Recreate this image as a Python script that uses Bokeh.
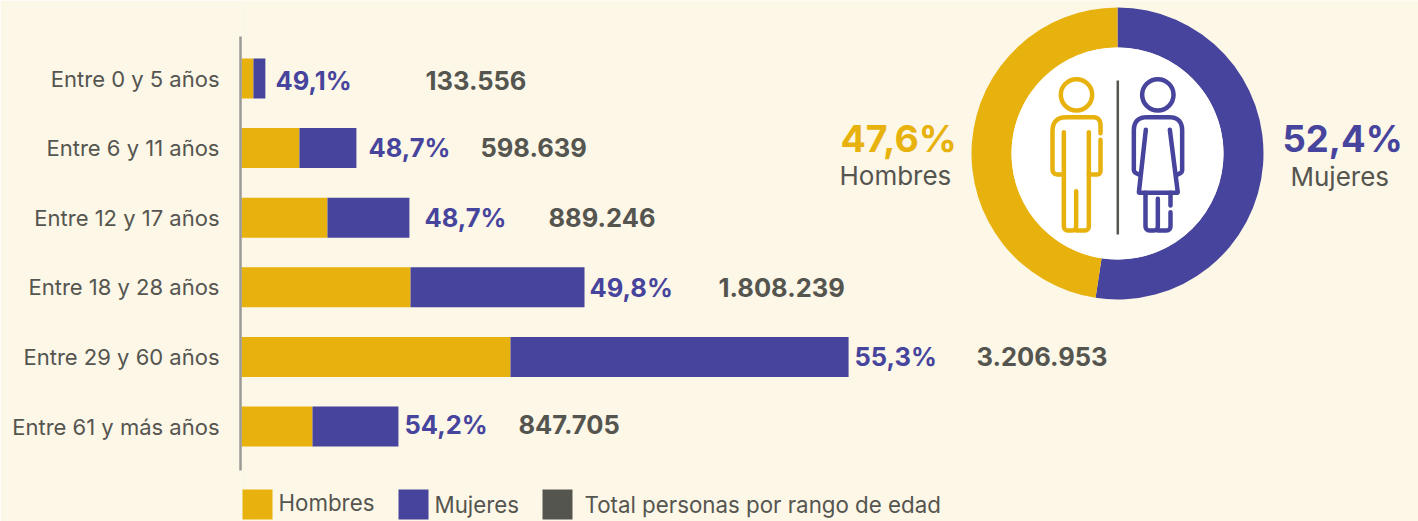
from bokeh.plotting import figure
from bokeh.models import Range1d, FixedTicker
from bokeh.core.properties import value
from bokeh.embed import file_html
from bokeh.resources import INLINE

# ---- data
categories = ["Entre 0 y 5 años", "Entre 6 y 11 años", "Entre 12 y 17 años",
              "Entre 18 y 28 años", "Entre 29 y 60 años", "Entre 61 y más años"]
total_labels = ["133.556", "598.639", "889.246", "1.808.239", "3.206.953", "847.705"]
hombres = [63000, 306000, 454000, 893000, 1421000, 375000]
mujeres = [63000, 301000, 433000, 919000, 1786000, 454000]
pct_labels = ["49,1%", "48,7%", "48,7%", "49,8%", "55,3%", "54,2%"]
donut_names = ["Hombres", "Mujeres"]
donut_values = [47.6, 52.4]
donut_labels = ["47,6%", "52,4%"]
legend_names = ["Hombres", "Mujeres", "Total personas por rango de edad"]

# ---- styles / layout (page pixels of the reference)
FONT = "Inter"
BG, YEL, PUR, GRY, AXC = "#FDF7E7", "#E8B20E", "#46449C", "#555550", "#9A9A96"
W, H = 1418, 521
LEFT = 240
K = 0.0001893                       # px per person
pct_x = [275, 368, 424, 589, 854, 404]
pct_y = [80, 147, 217, 287, 356, 424]
tot_x = [425, 480, 548, 718, 976, 518]
STEP, Y0 = 69.6, 78

p = figure(width=W, height=H, output_backend="svg", toolbar_location=None,
           x_range=Range1d(-1 / K, (W - LEFT - 1) / K),
           y_range=Range1d((H - Y0) / STEP, (0 - Y0) / STEP),
           min_border_left=LEFT, min_border_right=0, min_border_top=0, min_border_bottom=0,
           background_fill_color=BG, border_fill_color=BG, outline_line_color=None)
p.extra_x_ranges = {"px": Range1d(LEFT, W)}
p.extra_y_ranges = {"px": Range1d(H, 0)}
p.xaxis.visible = False
p.grid.visible = False

ax = p.yaxis[0]
ax.ticker = FixedTicker(ticks=list(range(len(categories))))
ax.major_label_overrides = {i: c for i, c in enumerate(categories)}
ax.bounds = ((36 - Y0) / STEP, (470 - Y0) / STEP)
ax.major_tick_line_color = None
ax.minor_tick_line_color = None
ax.axis_line_color = AXC
ax.axis_line_width = 2.5
ax.major_label_standoff = 15
ax.major_label_text_font = FONT
ax.major_label_text_font_size = "22px"
ax.major_label_text_color = GRY

# ---- stacked bars
ys = list(range(len(categories)))
tops = [a + b for a, b in zip(hombres, mujeres)]
BAR_H = 40 / STEP
p.hbar(y=ys, left=0, right=hombres, height=BAR_H, fill_color=YEL, line_color=None)
p.hbar(y=ys, left=hombres, right=tops, height=BAR_H, fill_color=PUR, line_color=None)

def txt(x, y, s, color, size, bold=False, align="left"):
    p.text(x=x, y=y, text=s, text_color=color, text_font=value(FONT),
           text_font_size=size, text_font_style="bold" if bold else "normal",
           text_align=align, text_baseline="middle",
           x_range_name="px", y_range_name="px")

txt(pct_x, pct_y, pct_labels, PUR, "25.5px", True)
txt(tot_x, pct_y, total_labels, GRY, "25.5px", True)

# ---- donut
CX, CY, RO, RI = 1117, 153, 146, 106
mid = 90 - donut_values[1] * 3.6
p.annular_wedge(x=[CX, CX], y=[CY, CY], inner_radius=RI, outer_radius=RO,
                inner_radius_units="screen", outer_radius_units="screen",
                start_angle=[mid, mid - donut_values[0] * 3.6],
                end_angle=[90, mid], start_angle_units="deg", end_angle_units="deg",
                direction="anticlock", fill_color=[PUR, YEL], line_color=None,
                x_range_name="px", y_range_name="px")
p.scatter(x=[CX], y=[CY], size=2 * RI, marker="circle", fill_color="white", line_color=None,
          x_range_name="px", y_range_name="px")

# ---- pictograms: sketched in the zoom crop's coordinates
def conv(pts):
    return [(960 + a / 3, b / 3) for a, b in pts]

def rounded(pts, r):
    """polyline with rounded corners (quadratic); r in zoom px per corner"""
    pts = conv(pts)
    xs, ys_ = [pts[0][0]], [pts[0][1]]
    for i in range(1, len(pts) - 1):
        (x0, y0), (x1, y1), (x2, y2) = pts[i - 1], pts[i], pts[i + 1]
        d1 = ((x0 - x1) ** 2 + (y0 - y1) ** 2) ** .5
        d2 = ((x2 - x1) ** 2 + (y2 - y1) ** 2) ** .5
        rr = min(r / 3, d1 / 2, d2 / 2)
        ax_, ay_ = x1 + (x0 - x1) * rr / d1, y1 + (y0 - y1) * rr / d1
        bx_, by_ = x1 + (x2 - x1) * rr / d2, y1 + (y2 - y1) * rr / d2
        for n in range(9):
            t = n / 8
            xs.append((1 - t) ** 2 * ax_ + 2 * t * (1 - t) * x1 + t ** 2 * bx_)
            ys_.append((1 - t) ** 2 * ay_ + 2 * t * (1 - t) * y1 + t ** 2 * by_)
    xs.append(pts[-1][0]); ys_.append(pts[-1][1])
    return xs, ys_

def strokes(paths, color):
    xs, ys_ = zip(*paths)
    p.multi_line(xs=list(xs), ys=list(ys_), line_color=color, line_width=4.5,
                 line_cap="round", line_join="round",
                 x_range_name="px", y_range_name="px")

man = [rounded([(420, 398), (420, 350), (276, 350), (276, 522), (310, 522)], 42),
       rounded([(310, 395), (310, 690), (347, 690), (347, 572)], 14),
       rounded([(347, 690), (385, 690), (385, 395)], 14),
       rounded([(385, 522), (420, 522), (420, 418)], 12)]
strokes(man, YEL)

woman = [rounded([(535, 522), (520, 515), (520, 350), (665, 350), (665, 515), (652, 522)], 40),
         rounded([(556, 388), (535, 577), (652, 577), (628, 388)], 3),
         rounded([(555, 577), (555, 690), (592, 690), (592, 595)], 14),
         rounded([(592, 690), (630, 690), (630, 635)], 14),
         rounded([(630, 615), (630, 577)], 1)]
strokes(woman, PUR)

head_x, head_y = zip(*conv([(348, 283), (592, 283)]))
p.circle(x=list(head_x), y=list(head_y), radius=15.7, radius_units="screen",
         fill_color=None, line_color=[YEL, PUR], line_width=4.5,
         x_range_name="px", y_range_name="px")
p.line(x=[1117.3, 1117.3], y=[80, 234], line_color=GRY, line_width=2.5,
       x_range_name="px", y_range_name="px")

# donut captions
txt([840], [138], [donut_labels[0]], YEL, "37.5px", True)
txt([1282], [138], [donut_labels[1]], PUR, "36.5px", True)
txt([839, 1290], [175, 176], donut_names, GRY, "26px")

# ---- legend
LEG = 504
p.rect(x=[257, 413, 557], y=[LEG] * 3, width=30, height=30,
       width_units="screen", height_units="screen",
       fill_color=[YEL, PUR, GRY], line_color=None, x_range_name="px", y_range_name="px")
txt([278, 434, 584], [LEG - 2, LEG, LEG], legend_names, GRY, "22.3px")

open("out.html", "w").write(file_html(p, INLINE))
